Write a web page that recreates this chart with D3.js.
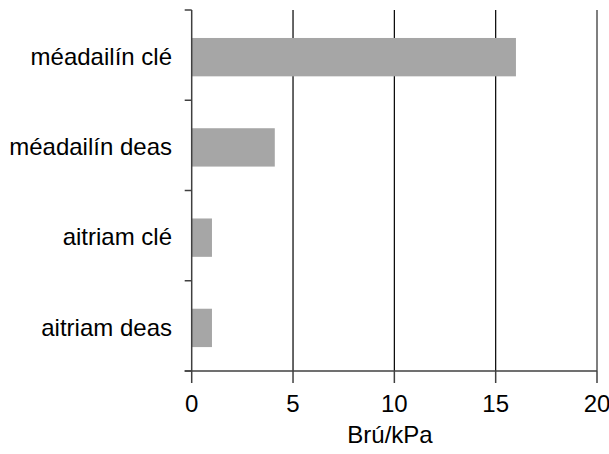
<!DOCTYPE html>
<html>
<head>
<meta charset="utf-8">
<script src="https://cdn.jsdelivr.net/npm/d3@7"></script>
<style>
  body { margin: 0; background: #fff; }
  text { font-family: "Liberation Sans", Arial, sans-serif; fill: #000; }
</style>
</head>
<body>
<div id="chart"></div>
<script>
// data
const categories = ["méadailín clé", "méadailín deas", "aitriam clé", "aitriam deas"];
const values = [16, 4.1, 1, 1];
const xTicks = [0, 5, 10, 15, 20];
const xTitle = "Brú/kPa";

const width = 609, height = 454;

const svg = d3.select("#chart").append("svg")
    .attr("width", width)
    .attr("height", height);

const x = d3.scaleLinear().domain([0, 20]).range([191.7, 597]);
const y = d3.scaleBand().domain(categories).range([10, 371]);
const bw = y.bandwidth();

// vertical grid lines
svg.selectAll(".grid")
    .data(xTicks.filter(t => t > 0))
    .enter()
    .append("line")
    .attr("class", "grid")
    .attr("x1", d => x(d))
    .attr("x2", d => x(d))
    .attr("y1", 10)
    .attr("y2", 371)
    .attr("stroke", d => d === 20 ? "#555" : "#000")
    .attr("stroke-width", d => d === 20 ? 1.5 : 1.2);

// bars
svg.selectAll(".bar")
    .data(categories)
    .enter()
    .append("rect")
    .attr("class", "bar")
    .attr("x", x(0))
    .attr("y", d => y(d) + bw * 0.31)
    .attr("width", (d, i) => x(values[i]) - x(0))
    .attr("height", bw * 0.425)
    .attr("fill", "#a6a6a6");

// y axis line and ticks at band edges
const axisColor = "#404040";
svg.append("line")
    .attr("x1", x(0)).attr("x2", x(0))
    .attr("y1", 10).attr("y2", 371)
    .attr("stroke", axisColor).attr("stroke-width", 1.5);

const edges = categories.map(c => y(c)).concat([y.range()[1]]);
svg.selectAll(".ytick")
    .data(edges)
    .enter()
    .append("line")
    .attr("class", "ytick")
    .attr("x1", x(0) - 7).attr("x2", x(0))
    .attr("y1", d => d).attr("y2", d => d)
    .attr("stroke", axisColor).attr("stroke-width", 1.5);

svg.selectAll(".ylabel")
    .data(categories)
    .enter()
    .append("text")
    .attr("class", "ylabel")
    .attr("x", 172)
    .attr("y", d => y(d) + bw / 2 + 1)
    .attr("dy", "0.36em")
    .attr("text-anchor", "end")
    .style("font-size", "24px")
    .text(d => d);

// x axis
svg.append("line")
    .attr("x1", x(0) - 7).attr("x2", x(20))
    .attr("y1", 371).attr("y2", 371)
    .attr("stroke", axisColor).attr("stroke-width", 1.5);

svg.selectAll(".xtick")
    .data(xTicks)
    .enter()
    .append("line")
    .attr("class", "xtick")
    .attr("x1", d => x(d)).attr("x2", d => x(d))
    .attr("y1", 371).attr("y2", 383)
    .attr("stroke", axisColor).attr("stroke-width", 1.5);

svg.selectAll(".xlabel")
    .data(xTicks)
    .enter()
    .append("text")
    .attr("class", "xlabel")
    .attr("x", d => x(d))
    .attr("y", 412)
    .attr("text-anchor", "middle")
    .style("font-size", "24px")
    .text(d => d);

svg.append("text")
    .attr("x", 390)
    .attr("y", 443)
    .attr("text-anchor", "middle")
    .style("font-size", "24px")
    .text(xTitle);
</script>
</body>
</html>
